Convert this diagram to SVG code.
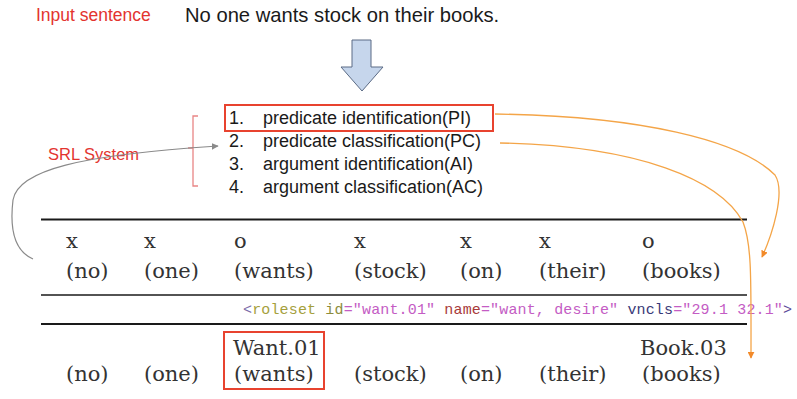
<svg xmlns="http://www.w3.org/2000/svg" width="797" height="399" viewBox="0 0 797 399">
<style>
.sans{font-family:"Liberation Sans",Arial,sans-serif}
.red{fill:#e3342f}
.item{font-family:"Liberation Sans",Arial,sans-serif;font-size:18px;fill:#1a1a1a}
.ser{font-family:"DejaVu Serif","Liberation Serif",serif;font-size:21px;fill:#333}
.mono{font-family:"Liberation Mono","Courier New",monospace;font-size:15px}
.rule{stroke:#1a1a1a}
.orange{fill:none;stroke:#f4a548;stroke-width:1.3}
.box{fill:none;stroke:#e8432f;stroke-width:2}
</style>
<defs>
<marker id="ao" viewBox="0 0 10 10" refX="9" refY="5" markerWidth="7" markerHeight="7" orient="auto" markerUnits="userSpaceOnUse"><path d="M0,0 L10,5 L0,10 z" fill="#f28a2a"/></marker>
<marker id="ag" viewBox="0 0 10 10" refX="9" refY="5" markerWidth="7" markerHeight="7" orient="auto" markerUnits="userSpaceOnUse"><path d="M0,0 L10,5 L0,10 z" fill="#8a8a8a"/></marker>
</defs>
<rect width="797" height="399" fill="#fff"/>

<g id="input-label"><text class="sans red" x="36" y="21" font-size="17.5">Input sentence</text></g>
<g id="sentence"><text class="sans" x="185" y="22" font-size="20.2" fill="#1a1a1a">No one wants stock on their books.</text></g>
<g id="down-arrow"><polygon points="352,40 371,40 371,67 383,67 362,91 341,67 352,67" fill="#c6d6ec" stroke="#5b6b85" stroke-width="1"/></g>

<g id="srl-label"><text class="sans red" x="48" y="160" font-size="16.5">SRL System</text></g>
<g id="bracket"><path d="M198,116 L193,116 L193,186 L198,186 M193,148 L188,148" fill="none" stroke="#e98585" stroke-width="1.3"/></g>

<g id="steps">
<rect class="box" x="225" y="105" width="268" height="26"/>
<text class="item" x="229" y="124">1.</text><text class="item" x="263" y="124">predicate identification(PI)</text>
<text class="item" x="229" y="147">2.</text><text class="item" x="263" y="147">predicate classification(PC)</text>
<text class="item" x="229" y="170">3.</text><text class="item" x="263" y="170">argument identification(AI)</text>
<text class="item" x="229" y="193">4.</text><text class="item" x="263" y="193">argument classification(AC)</text>
</g>

<g id="rules">
<line class="rule" x1="41" y1="219.5" x2="747" y2="219.5" stroke-width="2"/>
<line class="rule" x1="41" y1="295" x2="747" y2="295" stroke-width="1.3"/>
<line class="rule" x1="41" y1="324" x2="747" y2="324" stroke-width="2"/>
</g>

<g id="pi-row">
<text class="ser" x="66" y="248">x</text><text class="ser" x="66" y="278">(no)</text>
<text class="ser" x="144" y="248">x</text><text class="ser" x="144" y="278">(one)</text>
<text class="ser" x="234" y="248">o</text><text class="ser" x="234" y="278">(wants)</text>
<text class="ser" x="354" y="248">x</text><text class="ser" x="354" y="278">(stock)</text>
<text class="ser" x="460" y="248">x</text><text class="ser" x="460" y="278">(on)</text>
<text class="ser" x="539" y="248">x</text><text class="ser" x="539" y="278">(their)</text>
<text class="ser" x="642" y="248">o</text><text class="ser" x="642" y="278">(books)</text>
</g>

<g id="roleset"><text class="mono" x="243" y="314" textLength="549" lengthAdjust="spacing"><tspan fill="#7a6aa8">&lt;</tspan><tspan fill="#a5a03c">roleset</tspan><tspan fill="#8c8c3c"> id</tspan><tspan fill="#c45cc4">="want.01"</tspan><tspan fill="#a83a3a"> name</tspan><tspan fill="#c45cc4">="want, desire"</tspan><tspan fill="#3a3a78"> vncls</tspan><tspan fill="#c45cc4">="29.1 32.1"</tspan><tspan fill="#5a4a98">&gt;</tspan></text></g>

<g id="pc-row">
<text class="ser" x="66" y="381">(no)</text>
<text class="ser" x="144" y="381">(one)</text>
<rect class="box" x="224" y="332" width="100" height="57"/>
<text class="ser" x="233" y="355">Want.01</text><text class="ser" x="234" y="381">(wants)</text>
<text class="ser" x="354" y="381">(stock)</text>
<text class="ser" x="460" y="381">(on)</text>
<text class="ser" x="539" y="381">(their)</text>
<text class="ser" x="640" y="355">Book.03</text><text class="ser" x="642" y="381">(books)</text>
</g>

<g id="connectors">
<path d="M33,259 C12,250 10,225 13,200 C18,170 80,155 218,146" fill="none" stroke="#8a8a8a" stroke-width="1.2" marker-end="url(#ag)"/>
<path class="orange" d="M495,114 C640,116 740,140 775,175 C786,192 772,235 762,257" marker-end="url(#ao)"/>
<path class="orange" d="M500,143 C640,146 720,180 743,222 C752,245 751,280 751,358" marker-end="url(#ao)"/>
</g>
</svg>
